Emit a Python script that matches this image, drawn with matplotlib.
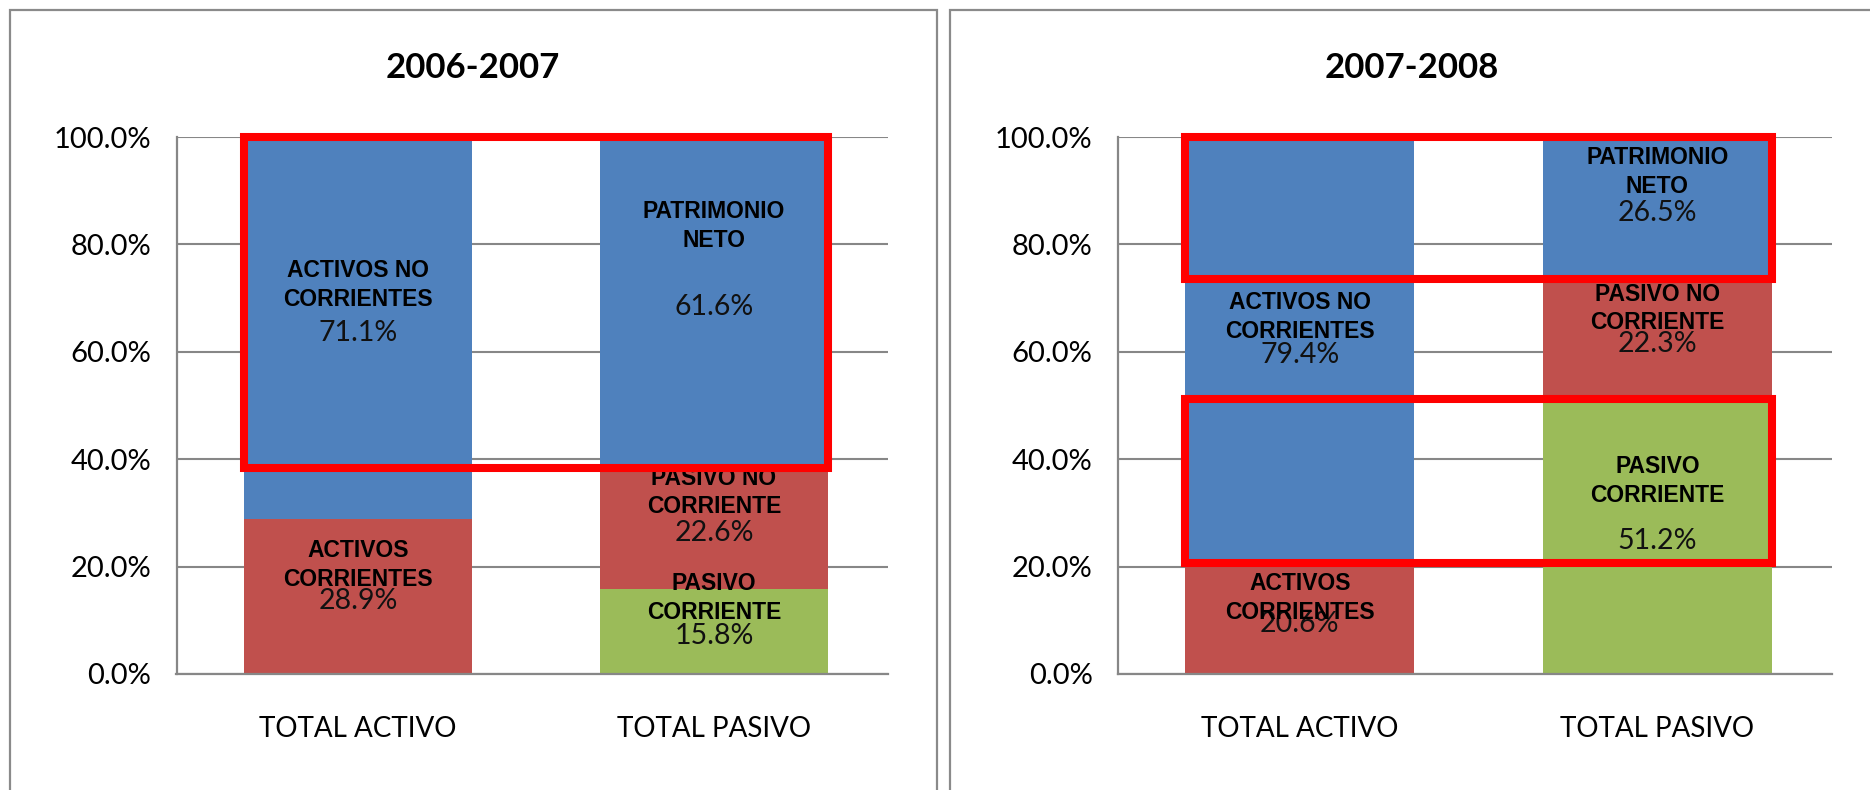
import matplotlib
matplotlib.use("Agg")
import matplotlib.pyplot as plt
from matplotlib.patches import Rectangle
from matplotlib.ticker import PercentFormatter

# datos (porcentaje de cada total)
categorias = ["TOTAL ACTIVO", "TOTAL PASIVO"]
titulos = ["2006-2007", "2007-2008"]

# series apiladas de abajo hacia arriba
verde_0607 = [0.0, 15.8]    # pasivo corriente
rojo_0607 = [28.9, 22.6]    # activos corrientes / pasivo no corriente
azul_0607 = [71.1, 61.6]    # activos no corrientes / patrimonio neto
verde_0708 = [0.0, 51.2]
rojo_0708 = [20.6, 22.3]
azul_0708 = [79.4, 26.5]

nombres_verde = [None, "PASIVO\nCORRIENTE"]
nombres_rojo = ["ACTIVOS\nCORRIENTES", "PASIVO NO\nCORRIENTE"]
nombres_azul = ["ACTIVOS NO\nCORRIENTES", "PATRIMONIO\nNETO"]

# desplazamiento de los cuadros de texto respecto al centro del segmento
offs_0607 = {"verde": [0, 6.3], "rojo": [5.8, 6.7], "azul": [8.0, 14.2]}
offs_0708 = {"verde": [0, 10.4], "rojo": [3.9, 5.7], "azul": [6.2, 6.8]}

AZUL = "#4F81BD"
ROJO = "#C0504D"
VERDE = "#9BBB59"
GRIS = "#878787"
W, H = 1870, 790
ANCHO = 0.64

paneles = [
    (verde_0607, rojo_0607, azul_0607, offs_0607,
     [(verde_0607[1] + rojo_0607[1], 100)]),
    (verde_0708, rojo_0708, azul_0708, offs_0708,
     [(verde_0708[1] + rojo_0708[1], 100), (rojo_0708[0], verde_0708[1])]),
]

fig = plt.figure(figsize=(W / 100, H / 100), dpi=100)
pos_axes = [[176.5 / W, 116 / H, 712 / W, 537 / H],
            [1117.5 / W, 116 / H, 715 / W, 537 / H]]
marcos = [(10, 927), (950, 960)]
centros_titulo = [473, 1412]

for k, (verde, rojo, azul, offs, cajas) in enumerate(paneles):
    # marco del panel
    x0, ancho_m = marcos[k]
    fig.patches.append(Rectangle((x0 / W, -0.05), ancho_m / W, 1.05 - 9.5 / H,
                                 transform=fig.transFigure, fill=False,
                                 ec="#8a8a8a", lw=1.6))
    fig.text(centros_titulo[k] / W, 1 - 68 / H, titulos[k], ha="center",
             va="center", fontsize=25, fontweight="bold", family="Lato")

    ax = fig.add_axes(pos_axes[k])
    x = list(range(len(categorias)))
    base_rojo = verde
    base_azul = [v + r for v, r in zip(verde, rojo)]
    ax.bar(x, verde, ANCHO, color=VERDE, zorder=2)
    ax.bar(x, rojo, ANCHO, bottom=base_rojo, color=ROJO, zorder=2)
    ax.bar(x, azul, ANCHO, bottom=base_azul, color=AZUL, zorder=2)

    series = [("verde", verde, [0, 0], nombres_verde),
              ("rojo", rojo, base_rojo, nombres_rojo),
              ("azul", azul, base_azul, nombres_azul)]
    for clave, vals, bases, nombres in series:
        for i in x:
            if vals[i] <= 0:
                continue
            centro = bases[i] + vals[i] / 2
            ax.annotate(f"{vals[i]:.1f}%", (i, centro), xytext=(0, -3.5),
                        textcoords="offset points", ha="center", va="center",
                        fontsize=20.5, family="Lato", color="#111111", zorder=3)
            if nombres[i]:
                ax.text(i, centro + offs[clave][i], nombres[i], ha="center",
                        va="center", fontsize=16.5, fontweight="bold",
                        family=["Liberation Sans", "DejaVu Sans"],
                        linespacing=1.32, color="black", zorder=3)

    # cuadros rojos de resaltado
    for y0, y1 in cajas:
        ax.add_patch(Rectangle((-ANCHO / 2, y0), 1 + ANCHO, y1 - y0,
                               fill=False, ec="#FF0000", lw=5.8, zorder=4,
                               clip_on=False))

    ax.set_xlim(-0.51, 1.49)
    ax.set_ylim(0, 100)
    ax.set_yticks([0, 20, 40, 60, 80, 100])
    ax.yaxis.set_major_formatter(PercentFormatter(decimals=1))
    ax.set_xticks(x)
    ax.set_xticklabels(categorias)
    ax.tick_params(axis="y", length=0, pad=18, labelsize=21)
    ax.tick_params(axis="x", length=0, pad=30, labelsize=20)
    for lab in ax.get_xticklabels() + ax.get_yticklabels():
        lab.set_family("Lato")
    ax.grid(axis="y", color=GRIS, lw=1.5, zorder=0)
    ax.set_axisbelow(True)
    for s in ["top", "right"]:
        ax.spines[s].set_visible(False)
    for s in ["left", "bottom"]:
        ax.spines[s].set_color(GRIS)
        ax.spines[s].set_linewidth(1.6)

fig.savefig("out.png", dpi=100)
